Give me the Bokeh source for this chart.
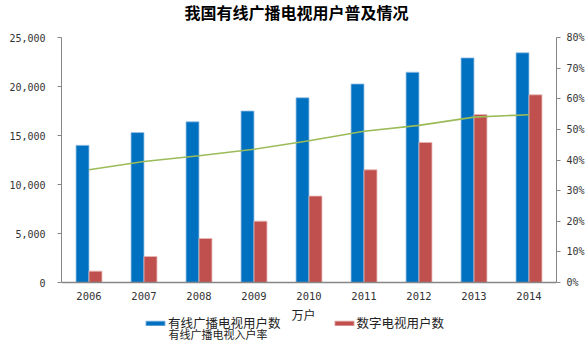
from bokeh.plotting import figure
from bokeh.models import (ColumnDataSource, Range1d, FactorRange, LinearAxis, NumeralTickFormatter,
                          FixedTicker, Legend, LegendItem, Label, LabelSet, Span)
from bokeh.core.properties import value
from bokeh.transform import dodge
from bokeh.embed import file_html
from bokeh.resources import INLINE

years = ["2006", "2007", "2008", "2009", "2010", "2011", "2012", "2013", "2014"]
cable_users = [14000, 15300, 16400, 17500, 18850, 20260, 21460, 22920, 23440]
digital_users = [1160, 2650, 4490, 6260, 8820, 11500, 14290, 17140, 19150]
penetration = [0.368, 0.395, 0.414, 0.435, 0.463, 0.494, 0.513, 0.540, 0.548]

src = ColumnDataSource(dict(year=years, cable=cable_users, digital=digital_users, rate=penetration))

FONT = "Noto Sans CJK SC"
MONO = "DejaVu Sans Mono"
AXIS_COLOR = "#868686"

W, H = 588, 341
TOP_PAD, BOT_PAD = 37, 59          # pixels above the 25,000 line and below the 0 line
PLOT_H = H - TOP_PAD - BOT_PAD
Y_MAX, P_MAX = 25000, 0.8

p = figure(width=W, height=H, x_range=FactorRange(*years),
           y_range=Range1d(-BOT_PAD * Y_MAX / PLOT_H, Y_MAX + TOP_PAD * Y_MAX / PLOT_H),
           output_backend="svg", toolbar_location=None, x_axis_location=None,
           min_border_left=61, min_border_right=32, min_border_top=0, min_border_bottom=0)
p.extra_y_ranges = {"pct": Range1d(-BOT_PAD * P_MAX / PLOT_H, P_MAX + TOP_PAD * P_MAX / PLOT_H)}
p.outline_line_color = None
p.xgrid.grid_line_color = None
p.ygrid.grid_line_color = None

rb = p.vbar(x=dodge("year", -0.118, range=p.x_range), top="cable", width=0.236, source=src,
            fill_color="#0070C0", line_color="#9DC3E6", line_width=0.8)
rr = p.vbar(x=dodge("year", 0.118, range=p.x_range), top="digital", width=0.236, source=src,
            fill_color="#C0504D", line_color="#E6B9B8", line_width=0.8)
rl = p.line(x="year", y="rate", source=src, y_range_name="pct", line_color="#9BBB59", line_width=1.6)

# left axis
ya = p.yaxis[0]
ya.bounds = (0, Y_MAX)
ya.ticker = FixedTicker(ticks=[0, 5000, 10000, 15000, 20000, 25000])
ya.formatter = NumeralTickFormatter(format="0,0")
ya.axis_line_color = AXIS_COLOR
ya.major_tick_line_color = AXIS_COLOR
ya.major_tick_in = 0
ya.major_tick_out = 4
ya.minor_tick_line_color = None
ya.major_label_standoff = 12
ya.major_label_text_font = MONO
ya.major_label_text_font_size = "10px"
ya.major_label_text_color = "#333333"

# right axis
ra = LinearAxis(y_range_name="pct", bounds=(0, P_MAX),
                ticker=FixedTicker(ticks=[0, 0.1, 0.2, 0.3, 0.4, 0.5, 0.6, 0.7, 0.8]),
                formatter=NumeralTickFormatter(format="0%"))
ra.axis_line_color = AXIS_COLOR
ra.major_tick_line_color = AXIS_COLOR
ra.major_tick_in = 0
ra.major_tick_out = 4
ra.minor_tick_line_color = None
ra.major_label_standoff = 6
ra.major_label_text_font = MONO
ra.major_label_text_font_size = "10px"
ra.major_label_text_color = "#333333"
p.add_layout(ra, "right")

# baseline (category axis line) and category labels
p.add_layout(Span(location=0, dimension="width", line_color=AXIS_COLOR, line_width=1.5))
p.add_layout(LabelSet(x="year", y=H - 295, y_units="screen", text="year", source=src,
                      text_align="center", text_baseline="middle",
                      text_font=value(MONO), text_font_size=value("10.5px"), text_color="#333333"))

# unit label
p.add_layout(Label(x=303 - 61, y=H - 314, x_units="screen", y_units="screen", text="万户",
                   text_align="center", text_baseline="middle",
                   text_font=FONT, text_font_size="12px", text_color="#222222"))

# title
p.add_layout(Label(x=296 - 61, y=H - 11, x_units="screen", y_units="screen",
                   text="我国有线广播电视用户普及情况", text_align="center", text_baseline="middle",
                   text_font=FONT, text_font_size="16px", text_font_style="bold", text_color="#000000"))

legend = Legend(items=[LegendItem(label="有线广播电视用户数", renderers=[rb]),
                       LegendItem(label="数字电视用户数", renderers=[rr])],
                orientation="horizontal", location=(143 - 61, 9),
                glyph_width=24, glyph_height=6, label_height=14,
                label_standoff=1, spacing=51, padding=0, margin=0,
                border_line_color=None, background_fill_alpha=0,
                label_text_font=FONT, label_text_font_size="12.5px", label_text_color="#222222")
p.add_layout(legend, "center")

# second legend row (line series), partly hidden below the first row in the original
p.add_layout(Label(x=168 - 61, y=H - 333, x_units="screen", y_units="screen", text="有线广播电视入户率",
                   text_baseline="middle", text_font=FONT, text_font_size="11px", text_color="#222222"))

open("out.html", "w").write(file_html(p, INLINE))
